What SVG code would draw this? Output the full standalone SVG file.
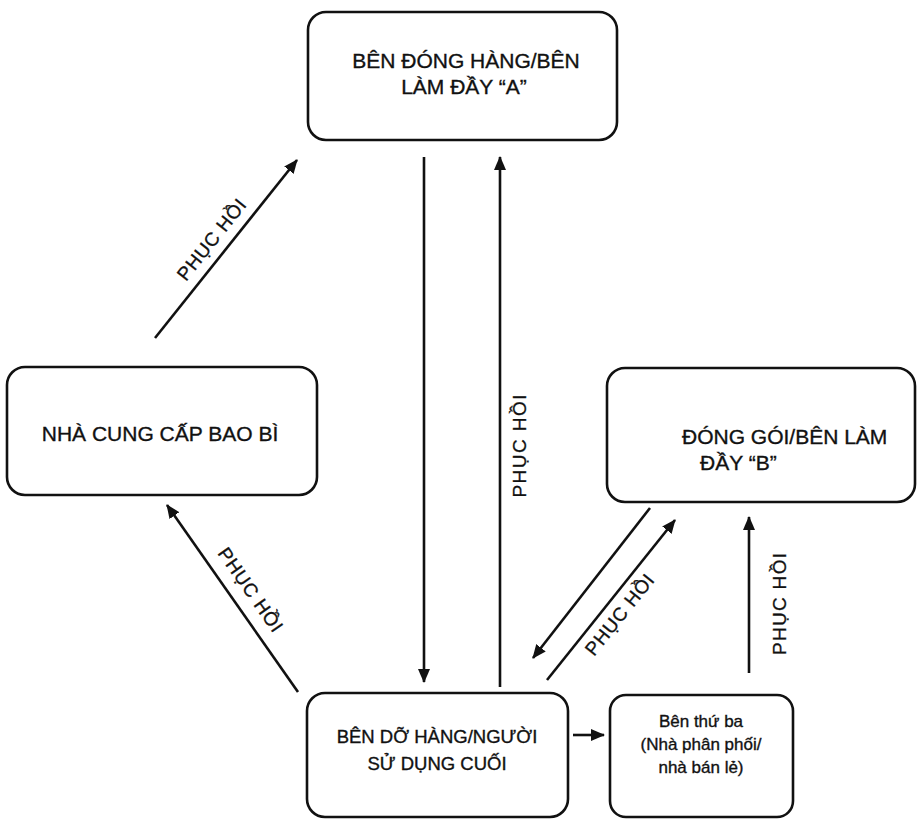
<svg xmlns="http://www.w3.org/2000/svg" width="918" height="819" viewBox="0 0 918 819">
<defs>
<style>
.box{fill:#fff;stroke:#111;stroke-width:2.6}
.t{font-family:"Liberation Sans",Arial,sans-serif;fill:#111;stroke:#111;stroke-width:0.35}
.big{font-size:21px}
.mid{font-size:18.5px}
.sm{font-size:17px}
.lbl{font-family:"Liberation Sans",Arial,sans-serif;font-size:19px;fill:#111;stroke:#111;stroke-width:0.3}
.ln{stroke:#111;stroke-width:2.6;fill:none}
</style>
<marker id="ah" viewBox="0 0 14 12" refX="13" refY="6" markerWidth="14" markerHeight="12" markerUnits="userSpaceOnUse" orient="auto">
<path d="M0,0 L14,6 L0,12 Z" fill="#111"/>
</marker>
</defs>
<rect width="918" height="819" fill="#fff"/>
<g id="nodeA">
<rect class="box" x="308" y="12" width="309" height="128" rx="18"/>
<text class="t big" x="466" y="68" text-anchor="middle">BÊN ĐÓNG HÀNG/BÊN</text>
<text class="t big" x="464" y="94" text-anchor="middle">LÀM ĐẦY “A”</text>
</g>
<g id="nodeSupplier">
<rect class="box" x="7" y="367" width="310" height="128" rx="18"/>
<text class="t big" x="160" y="441" text-anchor="middle">NHÀ CUNG CẤP BAO BÌ</text>
</g>
<g id="nodeB">
<rect class="box" x="607" y="368" width="308" height="134" rx="18"/>
<text class="t big" x="682" y="444">ĐÓNG GÓI/BÊN LÀM</text>
<text class="t big" x="700" y="470">ĐẦY “B”</text>
</g>
<g id="nodeEndUser">
<rect class="box" x="307" y="693" width="261" height="124" rx="18"/>
<text class="t mid" x="437" y="743" text-anchor="middle">BÊN DỠ HÀNG/NGƯỜI</text>
<text class="t mid" x="437" y="770" text-anchor="middle">SỬ DỤNG CUỐI</text>
</g>
<g id="nodeThirdParty">
<rect class="box" x="610" y="695" width="183" height="122" rx="16"/>
<text class="t sm" x="701" y="727" text-anchor="middle">Bên thứ ba</text>
<text class="t sm" x="701" y="750" text-anchor="middle">(Nhà phân phối/</text>
<text class="t sm" x="701" y="773" text-anchor="middle">nhà bán lẻ)</text>
</g>
<g id="connectors">
<line class="ln" x1="155" y1="338" x2="297" y2="160" marker-end="url(#ah)"/>
<text class="lbl" transform="translate(212,240) rotate(-51.4)" y="6" text-anchor="middle" textLength="98" lengthAdjust="spacing">PHỤC HỒI</text>
<line class="ln" x1="298" y1="692" x2="167" y2="505" marker-end="url(#ah)"/>
<text class="lbl" transform="translate(250,590) rotate(55)" y="6" text-anchor="middle" textLength="98" lengthAdjust="spacing">PHỤC HỒI</text>
<line class="ln" x1="424" y1="157" x2="424" y2="682" marker-end="url(#ah)"/>
<line class="ln" x1="500" y1="687" x2="500" y2="157" marker-end="url(#ah)"/>
<text class="lbl" transform="translate(519,446) rotate(-90)" y="7" text-anchor="middle" textLength="103" lengthAdjust="spacing">PHỤC HỒI</text>
<line class="ln" x1="650" y1="508" x2="533" y2="658" marker-end="url(#ah)"/>
<line class="ln" x1="547" y1="680" x2="675" y2="520" marker-end="url(#ah)"/>
<text class="lbl" transform="translate(620,615) rotate(-51.3)" y="6" text-anchor="middle" textLength="98" lengthAdjust="spacing">PHỤC HỒI</text>
<line class="ln" x1="749" y1="673" x2="749" y2="517" marker-end="url(#ah)"/>
<text class="lbl" transform="translate(779,604) rotate(-90)" y="7" text-anchor="middle" textLength="102" lengthAdjust="spacing">PHỤC HỒI</text>
<line class="ln" x1="573" y1="735" x2="604" y2="735" marker-end="url(#ah)"/>
</g>
</svg>
